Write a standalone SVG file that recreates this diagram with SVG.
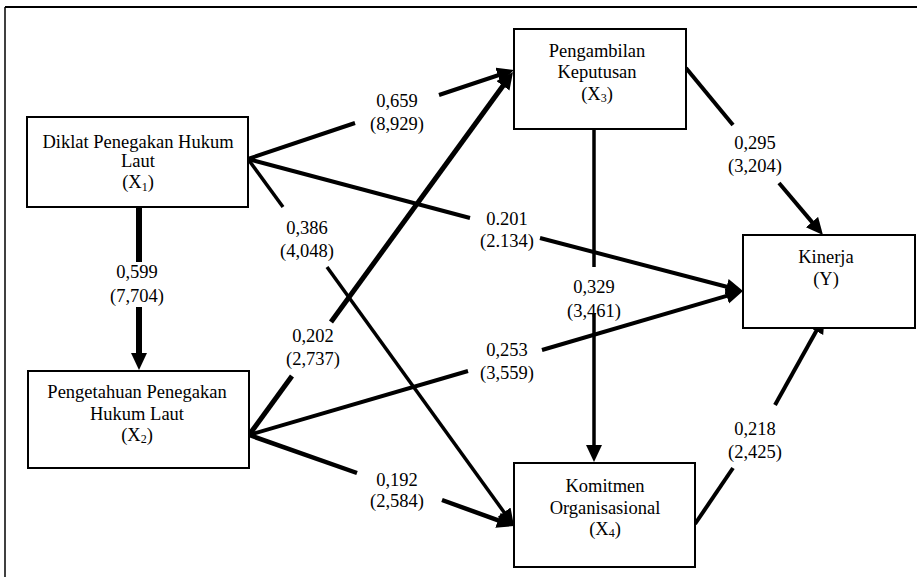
<svg xmlns="http://www.w3.org/2000/svg" width="917" height="577" viewBox="0 0 917 577">
<defs>
<style>
.box{fill:#fff;stroke:#000;stroke-width:2}
.t{font-family:"Liberation Serif","Times New Roman",serif;font-size:18.5px;fill:#000;text-anchor:middle}
.sub{font-size:12px}
.c{stroke:#000;stroke-width:4;fill:none}
.a{marker-end:url(#ah)}
</style>
<marker id="ah" markerUnits="userSpaceOnUse" markerWidth="18" markerHeight="18" refX="9" refY="8" orient="auto">
<path d="M0,0 L17,8 L0,16 z" fill="#000"/>
</marker>
</defs>
<rect width="917" height="577" fill="#fff"/>
<g id="frame">
<line x1="5" y1="7" x2="917" y2="7" stroke="#000" stroke-width="2"/>
<line x1="5" y1="7" x2="5" y2="577" stroke="#000" stroke-width="1.5"/>
</g>
<g id="connectors">
<line class="c" style="stroke-width:6" x1="139" y1="207" x2="139" y2="262"/>
<line class="c a" style="stroke-width:6" x1="139" y1="307" x2="139" y2="362"/>
<line class="c" x1="248" y1="159" x2="355" y2="123"/>
<line class="c a" x1="439" y1="95" x2="506.4" y2="72.5"/>
<line class="c" style="stroke-width:5" x1="249" y1="435" x2="292" y2="376"/>
<line class="c a" style="stroke-width:5" x1="331" y1="322" x2="508.3" y2="78.5"/>
<line class="c" x1="248" y1="159" x2="470" y2="218"/>
<line class="c a" x1="540" y1="238" x2="735.3" y2="289"/>
<line class="c" style="stroke-width:3.5" x1="248" y1="159" x2="283" y2="207"/>
<line class="c a" style="stroke-width:3.5" x1="327" y1="267" x2="509.3" y2="519.5"/>
<line class="c" style="stroke-width:4.5" x1="249" y1="435" x2="357" y2="473"/>
<line class="c a" style="stroke-width:4.5" x1="442" y1="500" x2="506.5" y2="523.3"/>
<line class="c" x1="249" y1="435" x2="468" y2="371"/>
<line class="c a" x1="542" y1="350" x2="735.3" y2="293.3"/>
<line class="c" style="stroke-width:3.5" x1="594" y1="129" x2="594" y2="267"/>
<line class="c a" style="stroke-width:3.5" x1="594" y1="313" x2="594" y2="454"/>
<line class="c" x1="686" y1="68" x2="733" y2="125"/>
<line class="c a" x1="779" y1="183" x2="817.8" y2="228.9"/>
<line class="c" x1="695" y1="524" x2="733" y2="468"/>
<line class="c a" x1="775" y1="405" x2="820.6" y2="323.3"/>
</g>
<g id="labels">
<text class="t" x="137" y="278">0,599</text><text class="t" x="137" y="302">(7,704)</text>
<text class="t" x="397" y="107">0,659</text><text class="t" x="397" y="130">(8,929)</text>
<text class="t" x="307" y="234">0,386</text><text class="t" x="307" y="257">(4,048)</text>
<text class="t" x="507" y="225">0.201</text><text class="t" x="507" y="247">(2.134)</text>
<text class="t" x="313" y="342">0,202</text><text class="t" x="313" y="365">(2,737)</text>
<text class="t" x="507" y="356">0,253</text><text class="t" x="507" y="379">(3,559)</text>
<text class="t" x="397" y="486">0,192</text><text class="t" x="397" y="507">(2,584)</text>
<text class="t" x="594" y="293">0,329</text><text class="t" x="594" y="317">(3,461)</text>
<text class="t" x="755" y="149">0,295</text><text class="t" x="755" y="172">(3,204)</text>
<text class="t" x="755" y="435">0,218</text><text class="t" x="755" y="458">(2,425)</text>
</g>
<g id="X1">
<rect class="box" x="27" y="117" width="221" height="90"/>
<text class="t" x="138" y="148">Diklat Penegakan Hukum</text>
<text class="t" x="138" y="167">Laut</text>
<text class="t" x="138" y="188">(X<tspan class="sub" dy="3">1</tspan><tspan dy="-3">)</tspan></text>
</g>
<g id="X2">
<rect class="box" x="28" y="371" width="221" height="97"/>
<text class="t" x="137" y="398">Pengetahuan Penegakan</text>
<text class="t" x="137" y="420">Hukum Laut</text>
<text class="t" x="137" y="441">(X<tspan class="sub" dy="2">2</tspan><tspan dy="-2">)</tspan></text>
</g>
<g id="X3">
<rect class="box" x="514" y="29" width="172" height="100"/>
<text class="t" x="597" y="57">Pengambilan</text>
<text class="t" x="597" y="78">Keputusan</text>
<text class="t" x="597" y="100">(X<tspan class="sub" dy="2">3</tspan><tspan dy="-2">)</tspan></text>
</g>
<g id="X4">
<rect class="box" x="514" y="463" width="181" height="104"/>
<text class="t" x="605" y="492">Komitmen</text>
<text class="t" x="605" y="514">Organisasional</text>
<text class="t" x="605" y="535">(X<tspan class="sub" dy="2">4</tspan><tspan dy="-2">)</tspan></text>
</g>
<g id="Y">
<rect class="box" x="743" y="235" width="172" height="93"/>
<text class="t" x="826" y="263">Kinerja</text>
<text class="t" x="826" y="285">(Y)</text>
</g>
</svg>
